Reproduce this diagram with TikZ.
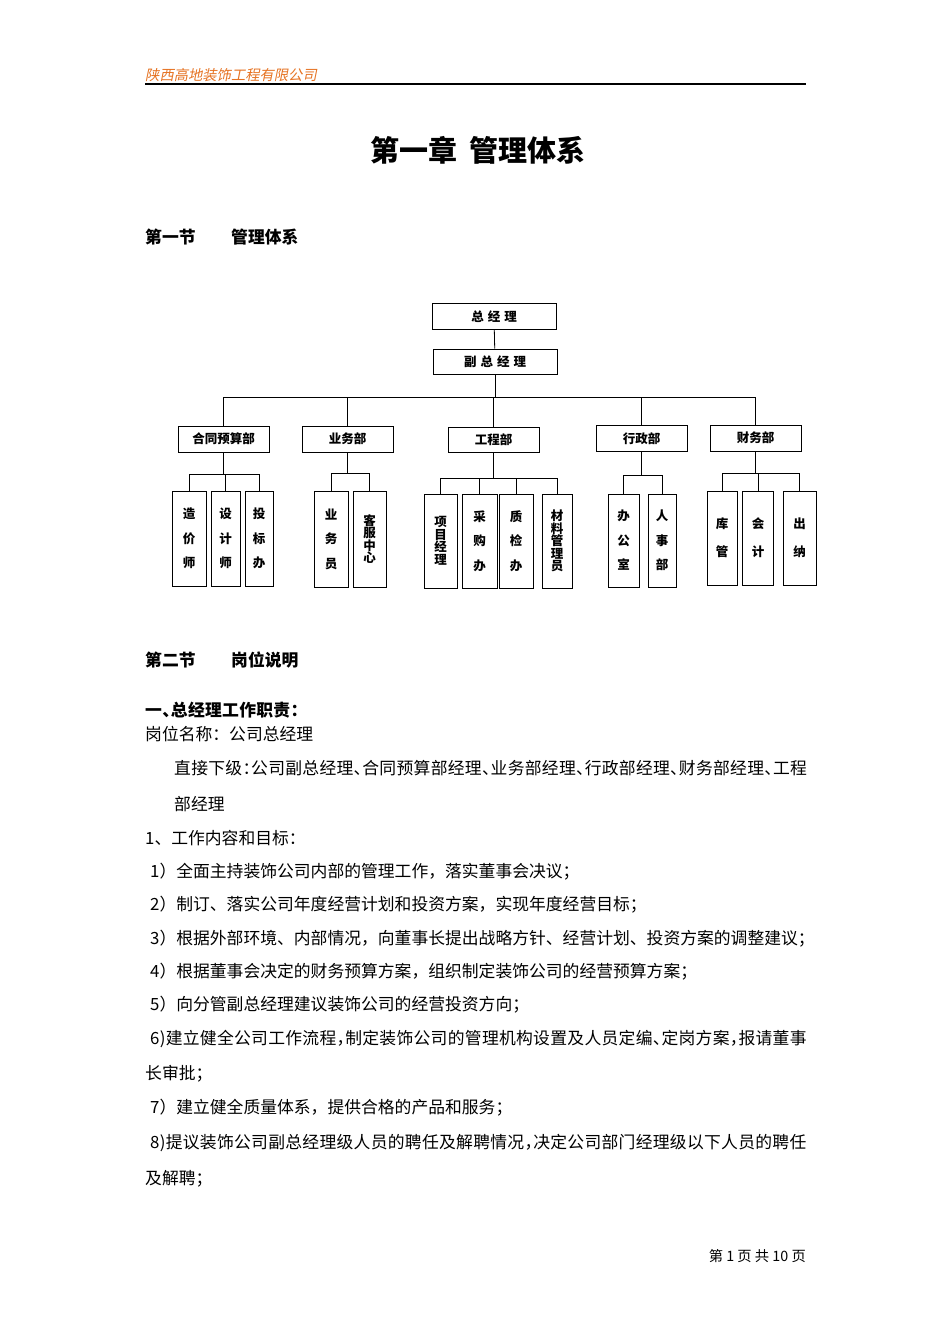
\documentclass[tikz,border=0pt]{standalone}
\usepackage{fontspec}
\setmainfont{Noto Sans CJK SC}
\newfontfamily\hdrfont{Noto Sans CJK SC}[FakeSlant=0.2]
\newfontfamily\halffont{Noto Sans CJK SC}[CharacterWidth=AlternateHalf,LetterSpace=1.7]
\definecolor{hdrorange}{RGB}{230,115,35}
\usetikzlibrary{positioning}
\begin{document}
\begin{tikzpicture}[x=1pt,y=-1pt,
  txt/.style={anchor=west,inner sep=0pt,font=\fontsize{16.8}{20}\selectfont},
  headtxt/.style={anchor=west,inner sep=0pt,font=\fontsize{16.8}{20}\selectfont\bfseries},
  orgbox/.style={draw,line width=0.9pt,inner sep=0pt,align=center,font=\fontsize{12.5}{15}\selectfont\bfseries},
  widebox/.style={orgbox,font=\fontsize{12.5}{24.5}\selectfont\bfseries},
  pairbox/.style={orgbox,font=\fontsize{12.5}{28}\selectfont\bfseries},
  tightbox/.style={orgbox,font=\fontsize{12.5}{12.5}\selectfont\bfseries},
  link/.style={line width=0.8pt}]
\useasboundingbox[fill=white] (0,0) rectangle (950,1344);

% page header
\node[anchor=west,inner sep=0pt,text=hdrorange,font=\hdrfont\fontsize{14.3}{16}\selectfont] (company) at (145,75) {陕西高地装饰工程有限公司};
\draw[line width=1.3pt] (145,84) -- (806,84);
\node[inner sep=0pt,font=\fontsize{29}{32}\selectfont\bfseries] (title) at (478,150) {第一章\hspace{12pt}管理体系};
\node[headtxt] (sec1) at (145,237) {第一节};
\node[headtxt] (sec1name) at (231,237) {管理体系};

% org chart
\node[orgbox,minimum width=124,minimum height=26] (gm) at (494,316.5) {总\hspace{4pt}经\hspace{4pt}理};
\node[orgbox,minimum width=124,minimum height=25] (dgm) at (495,361.5) {副\hspace{4pt}总\hspace{4pt}经\hspace{4pt}理};

\node[orgbox,minimum width=91,minimum height=26] (d1) at (223.5,439) {合同预算部};
\node[orgbox,minimum width=91,minimum height=26] (d2) at (347.5,439) {业务部};
\node[orgbox,minimum width=91,minimum height=25] (d3) at (493.5,439.5) {工程部};
\node[orgbox,minimum width=91,minimum height=26] (d4) at (641.5,438.5) {行政部};
\node[orgbox,minimum width=91,minimum height=26] (d5) at (755.5,438) {财务部};

\node[widebox,minimum width=34,minimum height=95] (c11) at (189,538.5) {造\\价\\师};
\node[widebox,minimum width=29,minimum height=95] (c12) at (225.5,538.5) {设\\计\\师};
\node[widebox,minimum width=28,minimum height=95] (c13) at (259,538.5) {投\\标\\办};
\node[widebox,minimum width=34,minimum height=96] (c21) at (331,539) {业\\务\\员};
\node[tightbox,minimum width=33,minimum height=96] (c22) at (369.5,539) {客\\服\\中\\心};
\node[tightbox,minimum width=33,minimum height=94] (c31) at (440.5,541) {项\\目\\经\\理};
\node[widebox,minimum width=35,minimum height=94] (c32) at (479.5,541) {采\\购\\办};
\node[widebox,minimum width=34,minimum height=94] (c33) at (516,541) {质\\检\\办};
\node[tightbox,minimum width=30,minimum height=94] (c34) at (557,541) {材\\料\\管\\理\\员};
\node[widebox,minimum width=31,minimum height=93] (c41) at (623.5,540.5) {办\\公\\室};
\node[widebox,minimum width=28,minimum height=93] (c42) at (662,540.5) {人\\事\\部};
\node[pairbox,minimum width=30,minimum height=94] (c51) at (722,538) {库\\管};
\node[pairbox,minimum width=31,minimum height=94] (c52) at (758,538) {会\\计};
\node[pairbox,minimum width=33,minimum height=94] (c53) at (799.5,538) {出\\纳};

\coordinate (bus) at (491,397);
\draw[link] (gm) -- (dgm);
\draw[link] (dgm.south) -- (dgm.south |- bus);
\draw[link] (d1.north) -- (d1.north |- bus) -- (d5.north |- bus) -- (d5.north);
\foreach \d in {d2,d3,d4}
  \draw[link] (\d.north) -- (\d.north |- bus);

\foreach \d/\s/\first/\last/\kids in {d1/22/c11/c13/{c11,c12,c13}, d2/21/c21/c22/{c21,c22},
    d3/26/c31/c34/{c31,c32,c33,c34}, d4/23/c41/c42/{c41,c42}, d5/22/c51/c53/{c51,c52,c53}}{
  \draw[link] (\d.south) -- ++(0,\s) coordinate (b\d);
  \draw[link] (\first.north |- b\d) -- (\last.north |- b\d);
  \foreach \k in \kids
    \draw[link] (\k.north) -- (\k.north |- b\d);
}

% job description text
\node[headtxt] (sec2) at (145,660) {第二节};
\node[headtxt] (sec2name) at (231,660) {岗位说明};
\node[headtxt,font=\halffont\fontsize{16.8}{20}\selectfont\bfseries] (duty) at (145,710) {一、总经理工作职责：};
\node[txt] (post) at (145,734) {岗位名称：公司总经理};
\node[txt,font=\halffont\fontsize{16.8}{20}\selectfont] (sub1) at (174,768) {直接下级：公司副总经理、合同预算部经理、业务部经理、行政部经理、财务部经理、工程};
\node[txt] (sub2) at (174,804) {部经理};
\node[txt] (goal) at (145,838) {1、工作内容和目标：};
\node[txt] (g1) at (150,872) {1）全面主持装饰公司内部的管理工作，落实董事会决议；};
\node[txt] (g2) at (150,905) {2）制订、落实公司年度经营计划和投资方案，实现年度经营目标；};
\node[txt] (g3) at (150,939) {3）根据外部环境、内部情况，向董事长提出战略方针、经营计划、投资方案的调整建议；};
\node[txt] (g4) at (150,972) {4）根据董事会决定的财务预算方案，组织制定装饰公司的经营预算方案；};
\node[txt] (g5) at (150,1005) {5）向分管副总经理建议装饰公司的经营投资方向；};
\node[txt,font=\halffont\fontsize{16.8}{20}\selectfont] (g6) at (150,1039) {6)建立健全公司工作流程，制定装饰公司的管理机构设置及人员定编、定岗方案，报请董事};
\node[txt] (g6b) at (145,1074) {长审批；};
\node[txt] (g7) at (150,1108) {7）建立健全质量体系，提供合格的产品和服务；};
\node[txt,font=\halffont\fontsize{16.8}{20}\selectfont] (g8) at (150,1143) {8)提议装饰公司副总经理级人员的聘任及解聘情况，决定公司部门经理级以下人员的聘任};
\node[txt] (g8b) at (145,1179) {及解聘；};

% footer
\node[anchor=east,inner sep=0pt,font=\fontsize{14.3}{16}\selectfont] (pageno) at (806,1256) {第 1 页 共 10 页};
\end{tikzpicture}
\end{document}
